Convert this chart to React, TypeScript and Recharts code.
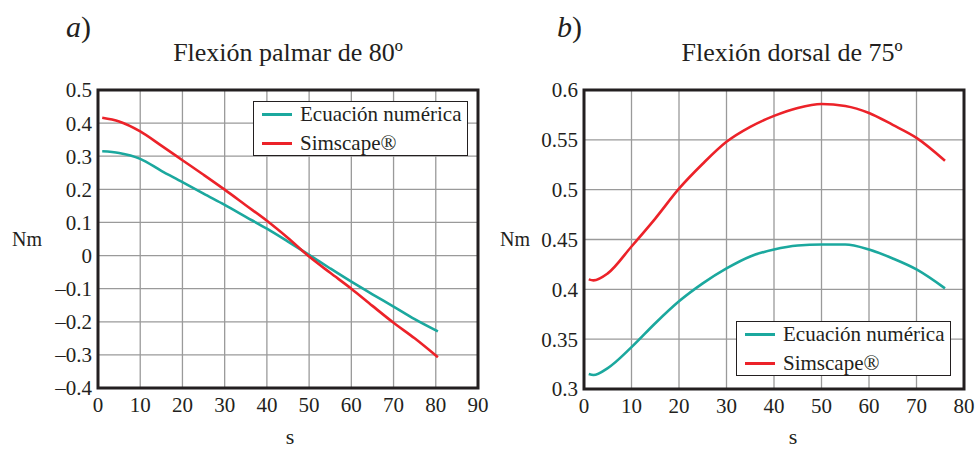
import React from 'react';
import {
  LineChart,
  Line,
  XAxis,
  YAxis,
  CartesianGrid,
  ReferenceArea,
  Legend,
} from 'recharts';

// a) Flexión palmar de 80º
const secondsA = [1, 5, 10, 15, 20, 25, 30, 35, 40, 45, 50, 55, 60, 65, 70, 75, 80.5];
const ecuacionA = [0.315, 0.31, 0.292, 0.256, 0.222, 0.187, 0.153, 0.117, 0.081, 0.042, 0.002, -0.039, -0.079, -0.117, -0.154, -0.192, -0.229];
const simscapeA = [0.416, 0.405, 0.375, 0.332, 0.288, 0.244, 0.199, 0.152, 0.105, 0.053, -0.003, -0.052, -0.1, -0.152, -0.203, -0.25, -0.307];
const xTicksA = [0, 10, 20, 30, 40, 50, 60, 70, 80, 90];
const yTicksA = [-0.4, -0.3, -0.2, -0.1, 0, 0.1, 0.2, 0.3, 0.4, 0.5];

// b) Flexión dorsal de 75º
const secondsB = [1, 2, 5, 10, 15, 20, 25, 30, 35, 40, 45, 50, 55, 60, 65, 70, 76];
const ecuacionB = [0.315, 0.314, 0.321, 0.342, 0.366, 0.388, 0.406, 0.421, 0.433, 0.44, 0.444, 0.445, 0.445, 0.44, 0.431, 0.42, 0.401];
const simscapeB = [0.41, 0.409, 0.416, 0.443, 0.471, 0.501, 0.526, 0.548, 0.563, 0.574, 0.582, 0.586, 0.584, 0.577, 0.565, 0.552, 0.529];
const xTicksB = [0, 10, 20, 30, 40, 50, 60, 70, 80];
const yTicksB = [0.3, 0.35, 0.4, 0.45, 0.5, 0.55, 0.6];

const TEAL = '#1ba89e';
const RED = '#ec2229';
const FONT = '"Liberation Serif", "Times New Roman", serif';

const dataA = secondsA.map((s, i) => ({ s, ecuacion: ecuacionA[i], simscape: simscapeA[i] }));
const dataB = secondsB.map((s, i) => ({ s, ecuacion: ecuacionB[i], simscape: simscapeB[i] }));

const fmtY = (v: number) => String(Math.round(v * 100) / 100).replace('-', '\u2013');

const tickStyle = { fontFamily: FONT, fontSize: 21, fill: '#231f20' };

function LegendBox() {
  const row = (color: string, label: string, y: number) => (
    <div style={{ position: 'absolute', left: 8, top: y, display: 'flex', alignItems: 'center' }}>
      <div style={{ width: 30, height: 3, background: color }} />
      <span style={{ marginLeft: 8, fontFamily: FONT, fontSize: 21, color: '#231f20', lineHeight: '24px' }}>{label}</span>
    </div>
  );
  return (
    <div
      style={{
        position: 'relative',
        width: 213,
        height: 53,
        border: '1.5px solid #231f20',
        background: '#fff',
      }}
    >
      {row(TEAL, 'Ecuación numérica', 0)}
      {row(RED, 'Simscape®', 29)}
    </div>
  );
}

interface PanelProps {
  data: { s: number; ecuacion: number; simscape: number }[];
  xTicks: number[];
  yTicks: number[];
  width: number;
  marginLeft: number;
  marginRight: number;
  marginBottom: number;
  legendLeft: number;
  legendTop: number;
}

function Panel({ data, xTicks, yTicks, width, marginLeft, marginRight, marginBottom, legendLeft, legendTop }: PanelProps) {
  const xMax = xTicks[xTicks.length - 1];
  const yMin = yTicks[0];
  const yMax = yTicks[yTicks.length - 1];
  return (
    <LineChart
      width={width}
      height={449}
      data={data}
      margin={{ top: 90, right: marginRight, bottom: marginBottom, left: marginLeft }}
    >
      <CartesianGrid stroke="#9a9a9a" strokeWidth={1.3} />
      <XAxis
        dataKey="s"
        type="number"
        domain={[0, xMax]}
        ticks={xTicks}
        axisLine={false}
        tickLine={false}
        tickSize={0}
        tickMargin={9}
        height={30}
        tick={tickStyle}
        interval={0}
      />
      <YAxis
        type="number"
        domain={[yMin, yMax]}
        ticks={yTicks}
        axisLine={false}
        tickLine={false}
        tickSize={0}
        tickMargin={6}
        width={60}
        tick={tickStyle}
        tickFormatter={fmtY}
        interval={0}
      />
      <ReferenceArea x1={0} x2={xMax} y1={yMin} y2={yMax} fill="none" stroke="#231f20" strokeWidth={3} fillOpacity={0} />
      <Line type="monotone" dataKey="ecuacion" stroke={TEAL} strokeWidth={2.6} dot={false} isAnimationActive={false} />
      <Line type="monotone" dataKey="simscape" stroke={RED} strokeWidth={2.6} dot={false} isAnimationActive={false} />
      <Legend
        layout="vertical"
        align="center"
        verticalAlign="middle"
        content={() => <LegendBox />}
        wrapperStyle={{ left: legendLeft, top: legendTop, width: 216, height: 56 }}
      />
    </LineChart>
  );
}

export default function App() {
  const textStyle = { fontFamily: FONT, fill: '#231f20' };
  return (
    <div style={{ position: 'absolute', left: 0, top: 0, width: 975, height: 449, background: '#fff' }}>
      <div style={{ position: 'absolute', left: 0, top: 0 }}>
        <Panel
          data={dataA}
          xTicks={xTicksA}
          yTicks={yTicksA}
          width={490}
          marginLeft={38}
          marginRight={12}
          marginBottom={31}
          legendLeft={253}
          legendTop={101}
        />
      </div>
      <div style={{ position: 'absolute', left: 490, top: 0 }}>
        <Panel
          data={dataB}
          xTicks={xTicksB}
          yTicks={yTicksB}
          width={485}
          marginLeft={34}
          marginRight={11}
          marginBottom={30}
          legendLeft={246}
          legendTop={321}
        />
      </div>
      <svg
        width={975}
        height={449}
        style={{ position: 'absolute', left: 0, top: 0, pointerEvents: 'none' }}
      >
        <text x={66} y={37} fontSize={30} {...textStyle}>
          <tspan fontStyle="italic">a</tspan>)
        </text>
        <text x={557} y={37} fontSize={30} {...textStyle}>
          <tspan fontStyle="italic">b</tspan>)
        </text>
        <text x={288} y={61} fontSize={26} textAnchor="middle" {...textStyle}>
          Flexión palmar de 80º
        </text>
        <text x={792} y={61} fontSize={26} textAnchor="middle" {...textStyle}>
          Flexión dorsal de 75º
        </text>
        <text x={12} y={246} fontSize={20} {...textStyle}>
          Nm
        </text>
        <text x={500} y={246} fontSize={20} {...textStyle}>
          Nm
        </text>
        <text x={290} y={444} fontSize={22} textAnchor="middle" {...textStyle}>
          s
        </text>
        <text x={793} y={444} fontSize={22} textAnchor="middle" {...textStyle}>
          s
        </text>
      </svg>
    </div>
  );
}
